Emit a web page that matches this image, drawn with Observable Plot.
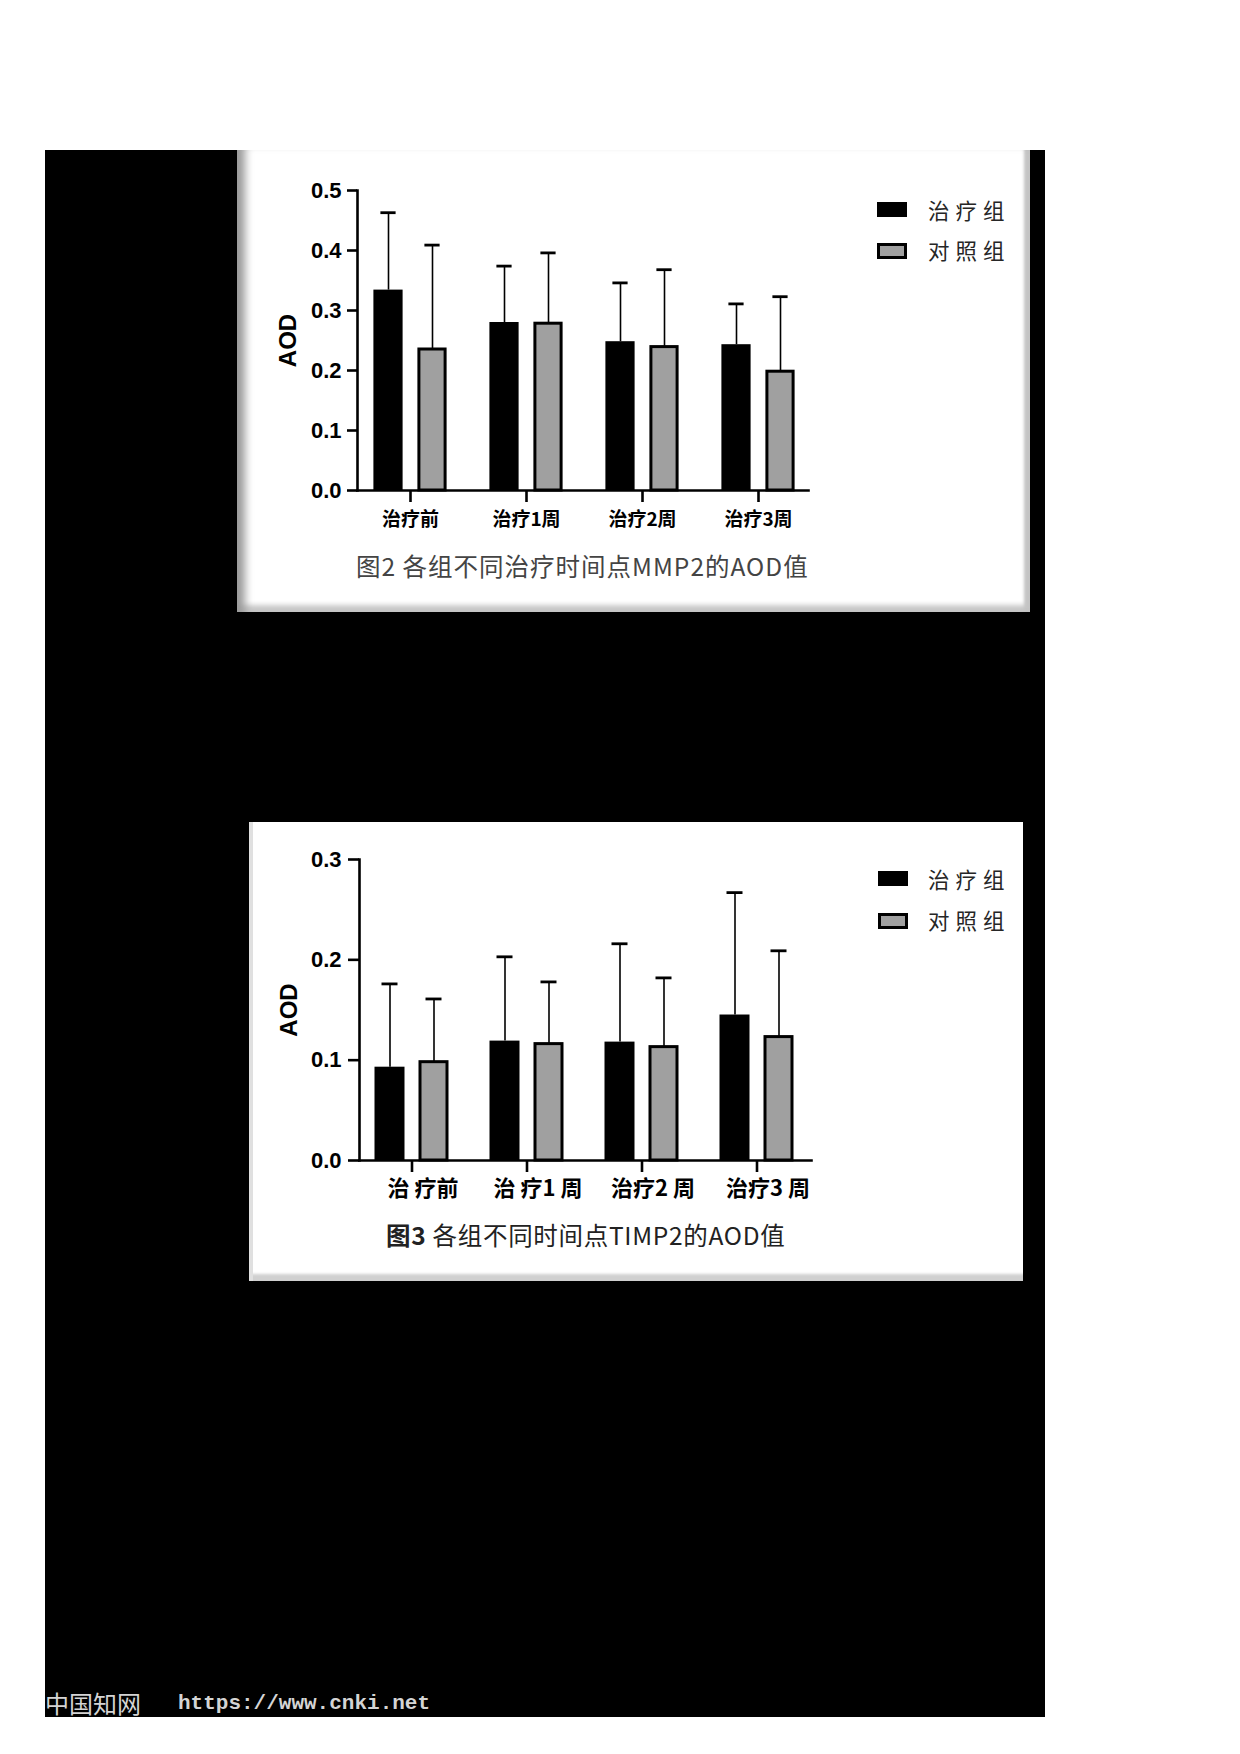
<!DOCTYPE html>
<html>
<head>
<meta charset="utf-8">
<script src="https://cdn.jsdelivr.net/npm/d3@7"></script>
<script src="https://cdn.jsdelivr.net/npm/@observablehq/plot@0.6"></script>
<style>
  html, body { margin: 0; padding: 0; background: #fff; }
  #page { position: relative; width: 1240px; height: 1754px; overflow: hidden; background: #fff; }
  .abs { position: absolute; }
  .card { position: absolute; background: #fff; }
  .legtext { position: absolute; height: 30px; line-height: 30px; font-family: "Noto Sans CJK SC", sans-serif; font-size: 21.5px; letter-spacing: 6px; color: #262626; white-space: nowrap; }
  .sw { position: absolute; width: 30px; box-sizing: border-box; }
  .caption { position: absolute; height: 34px; line-height: 34px; font-family: "Noto Sans CJK SC", sans-serif; font-size: 24.5px; white-space: nowrap; }
  .chart svg { display: block; }
</style>
</head>
<body>
<div id="page">
  <div class="abs" style="left:45px;top:150px;width:1000px;height:1567px;background:#000;"></div>

  <div class="card" style="left:237px;top:150px;width:793px;height:462px;box-shadow: inset 14px 0 9px -6px #9a9a9a, inset -9px 0 3px -3px #c4c4c4, inset 0 -12px 5px -5px #c8c8c8;"></div>
  <div class="card" style="left:249px;top:822px;width:774px;height:459px;box-shadow: inset 4px 0 0 0 #e0e0e0, inset 0 -10px 3px -3px #d0d0d0;"></div>

  <div id="chart1" class="abs chart" style="left:237px;top:150px;"></div>
  <div id="chart2" class="abs chart" style="left:249px;top:822px;"></div>

  <!-- legend 1 -->
  <div class="sw" style="left:877px;top:202px;height:15px;background:#000;"></div>
  <div class="legtext" id="leg1a" style="left:928px;top:195px;"></div>
  <div class="sw" style="left:877px;top:243px;height:16px;background:#a0a0a0;border:3px solid #000;"></div>
  <div class="legtext" id="leg1b" style="left:928px;top:235px;"></div>

  <!-- legend 2 -->
  <div class="sw" style="left:878px;top:871px;height:15px;background:#000;"></div>
  <div class="legtext" id="leg2a" style="left:928px;top:864px;"></div>
  <div class="sw" style="left:878px;top:913px;height:16px;background:#a0a0a0;border:3px solid #000;"></div>
  <div class="legtext" id="leg2b" style="left:928px;top:905px;"></div>

  <div class="caption" id="cap1" style="left:356px;top:549px;color:#444;letter-spacing:1px;"></div>
  <div class="caption" id="cap2" style="left:386px;top:1218px;color:#222;letter-spacing:0.7px;"></div>

  <div class="abs" style="left:45px;top:1689px;height:28px;line-height:28px;font-family:'Noto Sans CJK SC',sans-serif;font-size:24px;color:#d4d4d4;white-space:nowrap;">中国知网</div>
  <div class="abs" style="left:178px;top:1690px;height:28px;line-height:28px;font-family:'Liberation Mono',monospace;font-weight:bold;font-size:21px;color:#d4d4d4;white-space:nowrap;">https://www.cnki.net</div>
</div>

<script>
// ---------- Data ----------
const seriesNames = ["治疗组", "对照组"];

// Figure 2: MMP2
const mmp2Categories = ["治疗前", "治疗1周", "治疗2周", "治疗3周"];
const mmp2Treat   = [0.334, 0.280, 0.248, 0.243];
const mmp2TreatSD = [0.129, 0.094, 0.098, 0.068];
const mmp2Ctrl    = [0.235, 0.278, 0.239, 0.198];
const mmp2CtrlSD  = [0.174, 0.118, 0.129, 0.125];
const mmp2Ticks   = [0, 0.1, 0.2, 0.3, 0.4, 0.5];
const mmp2Caption = "图2  各组不同治疗时间点MMP2的AOD值";

// Figure 3: TIMP2
const timp2Categories = ["治 疗前", "治 疗1 周", "治疗2 周", "治疗3 周"];
const timp2Treat   = [0.093, 0.119, 0.118, 0.145];
const timp2TreatSD = [0.083, 0.084, 0.098, 0.122];
const timp2Ctrl    = [0.098, 0.116, 0.113, 0.123];
const timp2CtrlSD  = [0.063, 0.062, 0.069, 0.086];
const timp2Ticks   = [0, 0.1, 0.2, 0.3];
const timp2CaptionBold = "图3";
const timp2Caption = " 各组不同时间点TIMP2的AOD值";

const yLabel = "AOD";

function makeChart(c) {
  const rows = c.cats.map((cat, i) => ({
    cat,
    treat: c.treat[i], treatTop: c.treat[i] + c.treatSD[i],
    ctrl: c.ctrl[i], ctrlTop: c.ctrl[i] + c.ctrlSD[i]
  }));
  const step = (c.xRange[1] - c.xRange[0]) / c.cats.length;
  const half = step / 2;
  const sw = 2.6;
  return Plot.plot({
    width: c.width, height: c.height,
    marginLeft: c.ml, marginRight: c.mr, marginTop: c.mt, marginBottom: c.mb,
    style: {background: "transparent", fontFamily: "'Liberation Sans', Arial, sans-serif", color: "#000", overflow: "visible"},
    x: {domain: c.cats, range: c.xRange, padding: 0, label: null},
    y: {domain: [0, c.yMax], label: null},
    marks: [
      Plot.ruleX(rows, {x: "cat", y1: "treat", y2: "treatTop", dx: -22, stroke: "#000", strokeWidth: 1.6}),
      Plot.ruleX(rows, {x: "cat", y1: "ctrl", y2: "ctrlTop", dx: 22, stroke: "#000", strokeWidth: 1.6}),
      Plot.tickY(rows, {x: "cat", y: "treatTop", insetLeft: half - 30, insetRight: half + 14, stroke: "#000", strokeWidth: 2.8}),
      Plot.tickY(rows, {x: "cat", y: "ctrlTop", insetLeft: half + 14, insetRight: half - 30, stroke: "#000", strokeWidth: 2.8}),
      Plot.barY(rows, {x: "cat", y: "treat", fill: "#000", insetLeft: half - 37, insetRight: half + 7}),
      Plot.barY(rows, {x: "cat", y: "ctrl", fill: "#a0a0a0", stroke: "#000", strokeWidth: 3, insetLeft: half + 8.5, insetRight: half - 35.5}),
      Plot.frame({anchor: "left", stroke: "#000", strokeWidth: sw}),
      Plot.frame({anchor: "bottom", stroke: "#000", strokeWidth: sw}),
      Plot.axisY({ticks: c.yTicks, tickFormat: d3.format(".1f"), tickSize: c.yTickSize, tickPadding: c.yTickPad, stroke: "#000", strokeWidth: sw, fontSize: 22, fontWeight: "bold", label: null}),
      Plot.axisX({tickSize: 12, tickPadding: 8, stroke: "#000", strokeWidth: sw, text: null, label: null}),
      Plot.axisX({tickSize: 12, tickPadding: c.catPad, stroke: null, fontSize: c.catFont, fontWeight: "bold", fontFamily: "'Noto Sans CJK SC', sans-serif", dx: c.catDx, label: null}),
      Plot.text([yLabel], {text: d => d, frameAnchor: "left", textAnchor: "middle", dx: c.labelDx, rotate: -90, fontSize: 24, fontWeight: "bold", fill: "#000"})
    ]
  });
}

document.getElementById("chart1").append(makeChart({
  cats: mmp2Categories, treat: mmp2Treat, treatSD: mmp2TreatSD, ctrl: mmp2Ctrl, ctrlSD: mmp2CtrlSD,
  yMax: 0.5, yTicks: mmp2Ticks,
  width: 603, height: 400, ml: 120, mr: 32, mt: 40, mb: 60,
  xRange: [113.3, 580.5], yTickSize: 10, yTickPad: 6, labelDx: -69, catFont: 19, catDx: 0, catPad: 10
}));

document.getElementById("chart2").append(makeChart({
  cats: timp2Categories, treat: timp2Treat, treatSD: timp2TreatSD, ctrl: timp2Ctrl, ctrlSD: timp2CtrlSD,
  yMax: 0.3, yTicks: timp2Ticks,
  width: 600, height: 398, ml: 110, mr: 38, mt: 37, mb: 60,
  xRange: [105.2, 565.2], yTickSize: 11, yTickPad: 7, labelDx: -70.5, catFont: 22, catDx: 11, catPad: 8
}));

document.getElementById("leg1a").textContent = seriesNames[0];
document.getElementById("leg1b").textContent = seriesNames[1];
document.getElementById("leg2a").textContent = seriesNames[0];
document.getElementById("leg2b").textContent = seriesNames[1];
document.getElementById("cap1").textContent = mmp2Caption;
const cap2 = document.getElementById("cap2");
const b = document.createElement("b"); b.textContent = timp2CaptionBold;
cap2.append(b, document.createTextNode(timp2Caption));
</script>
</body>
</html>
